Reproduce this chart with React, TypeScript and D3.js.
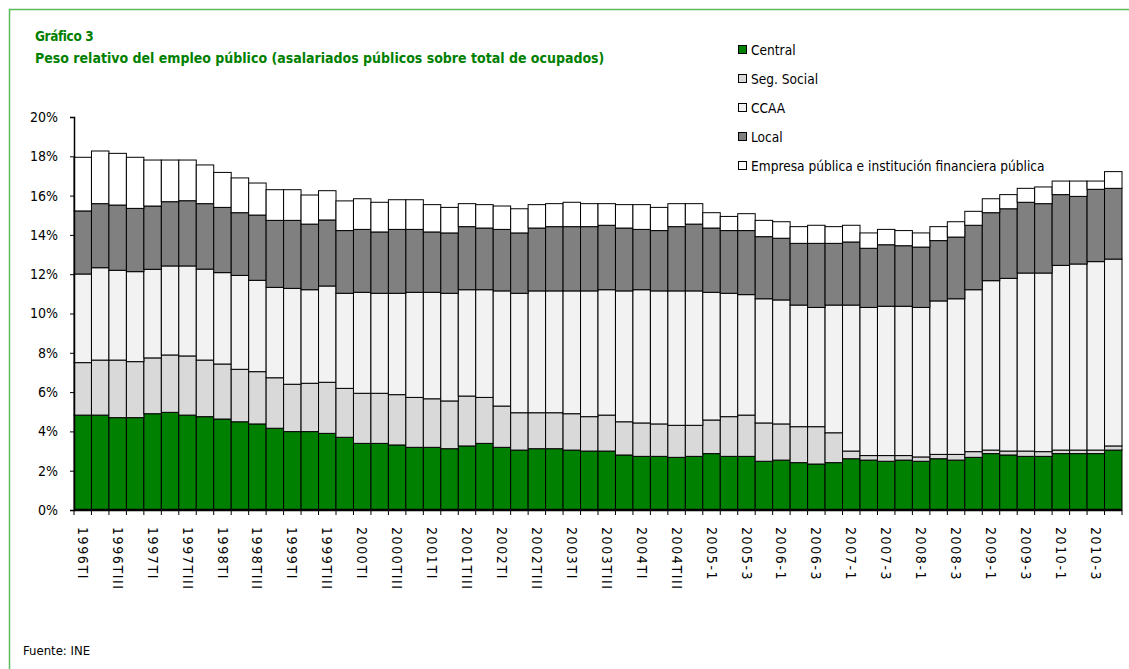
import React, { useEffect, useRef } from "react";
import * as d3 from "d3";

// trimestres 1996-2010
const quarters = [
  "1996TI", "1996TII", "1996TIII", "1996TIV",
  "1997TI", "1997TII", "1997TIII", "1997TIV",
  "1998TI", "1998TII", "1998TIII", "1998TIV",
  "1999TI", "1999TII", "1999TIII", "1999TIV",
  "2000TI", "2000TII", "2000TIII", "2000TIV",
  "2001TI", "2001TII", "2001TIII", "2001TIV",
  "2002TI", "2002TII", "2002TIII", "2002TIV",
  "2003TI", "2003TII", "2003TIII", "2003TIV",
  "2004TI", "2004TII", "2004TIII", "2004TIV",
  "2005-1", "2005-2", "2005-3", "2005-4",
  "2006-1", "2006-2", "2006-3", "2006-4",
  "2007-1", "2007-2", "2007-3", "2007-4",
  "2008-1", "2008-2", "2008-3", "2008-4",
  "2009-1", "2009-2", "2009-3", "2009-4",
  "2010-1", "2010-2", "2010-3", "2010-4",
];

// % sobre total de ocupados
const central = [
  4.83, 4.83, 4.70, 4.70, 4.90, 4.97, 4.83, 4.75, 4.63, 4.49,
  4.38, 4.16, 3.99, 3.99, 3.90, 3.70, 3.39, 3.39, 3.31, 3.19,
  3.19, 3.12, 3.26, 3.39, 3.19, 3.05, 3.12, 3.12, 3.05, 3.00,
  3.00, 2.80, 2.73, 2.73, 2.68, 2.73, 2.87, 2.73, 2.73, 2.48,
  2.54, 2.41, 2.34, 2.41, 2.61, 2.54, 2.48, 2.54, 2.48, 2.61,
  2.54, 2.68, 2.87, 2.80, 2.73, 2.73, 2.87, 2.87, 2.87, 3.05,
];
const segSocial = [
  2.67, 2.80, 2.93, 2.85, 2.84, 2.92, 3.01, 2.88, 2.80, 2.67,
  2.66, 2.57, 2.41, 2.46, 2.60, 2.49, 2.55, 2.55, 2.56, 2.54,
  2.47, 2.43, 2.54, 2.34, 2.10, 1.90, 1.83, 1.83, 1.85, 1.75,
  1.83, 1.69, 1.70, 1.65, 1.63, 1.58, 1.71, 2.02, 2.10, 1.95,
  1.84, 1.83, 1.90, 1.52, 0.39, 0.23, 0.29, 0.23, 0.22, 0.22,
  0.29, 0.29, 0.18, 0.20, 0.27, 0.24, 0.18, 0.18, 0.18, 0.21,
];
const ccaa = [
  4.51, 4.70, 4.57, 4.58, 4.51, 4.53, 4.58, 4.63, 4.65, 4.78,
  4.65, 4.60, 4.88, 4.76, 4.90, 4.84, 5.14, 5.09, 5.16, 5.35,
  5.42, 5.48, 5.41, 5.48, 5.86, 6.08, 6.20, 6.20, 6.25, 6.40,
  6.38, 6.66, 6.78, 6.77, 6.84, 6.84, 6.50, 6.28, 6.13, 6.32,
  6.31, 6.19, 6.07, 6.50, 7.43, 7.54, 7.60, 7.60, 7.61, 7.81,
  7.92, 8.24, 8.62, 8.79, 9.06, 9.09, 9.40, 9.47, 9.59, 9.51,
];
const local = [
  3.21, 3.26, 3.32, 3.22, 3.22, 3.27, 3.32, 3.33, 3.32, 3.19,
  3.32, 3.41, 3.46, 3.34, 3.36, 3.19, 3.20, 3.12, 3.25, 3.20,
  3.07, 3.07, 3.21, 3.14, 3.13, 3.07, 3.20, 3.27, 3.27, 3.27,
  3.28, 3.20, 3.07, 3.07, 3.27, 3.40, 3.27, 3.19, 3.26, 3.16,
  3.14, 3.14, 3.26, 3.14, 3.21, 3.01, 3.13, 3.08, 3.07, 3.07,
  3.14, 3.28, 3.46, 3.54, 3.60, 3.53, 3.60, 3.44, 3.68, 3.60,
];
const empresa = [
  2.73, 2.68, 2.63, 2.60, 2.34, 2.12, 2.07, 1.97, 1.78, 1.77,
  1.63, 1.56, 1.56, 1.48, 1.49, 1.51, 1.56, 1.51, 1.51, 1.51,
  1.39, 1.30, 1.17, 1.19, 1.19, 1.23, 1.19, 1.17, 1.24, 1.17,
  1.10, 1.19, 1.26, 1.18, 1.17, 1.04, 0.78, 0.72, 0.86, 0.83,
  0.84, 0.85, 0.92, 0.85, 0.85, 0.78, 0.78, 0.77, 0.72, 0.71,
  0.78, 0.71, 0.71, 0.72, 0.71, 0.85, 0.69, 0.78, 0.42, 0.85,
];

const seriesNames = [
  "Central",
  "Seg. Social",
  "CCAA",
  "Local",
  "Empresa pública e institución financiera pública",
];
const seriesColors = ["#008000", "#d9d9d9", "#f2f2f2", "#808080", "#ffffff"];
const yTicks = [0, 2, 4, 6, 8, 10, 12, 14, 16, 18, 20];

const FONT = "'Liberation Sans Narrow', 'DejaVu Sans Condensed', 'Roboto Condensed', sans-serif";

const App: React.FC = () => {
  const ref = useRef<SVGSVGElement | null>(null);

  useEffect(() => {
    const width = 1129;
    const height = 669;
    const svg = d3.select(ref.current);
    svg.selectAll("*").remove();
    svg.attr("width", width).attr("height", height).style("font-family", FONT);

    // marco verde
    svg.append("rect")
      .attr("x", 9.5).attr("y", 9.5)
      .attr("width", 1200).attr("height", 700)
      .attr("fill", "none")
      .attr("stroke", "#5cb85c")
      .attr("stroke-width", 1.5);

    // titulos
    svg.append("text")
      .attr("x", 35).attr("y", 41)
      .attr("fill", "#008000").attr("font-weight", "bold").attr("font-size", 13.5)
      .attr("letter-spacing", -0.4)
      .text("Gráfico 3");
    svg.append("text")
      .attr("x", 35).attr("y", 63)
      .attr("fill", "#008000").attr("font-weight", "bold").attr("font-size", 14)
      .text("Peso relativo  del empleo público (asalariados públicos sobre total de ocupados)");

    // escalas
    const x = d3.scaleBand().domain(quarters).range([74, 1122]).padding(0);
    const y = d3.scaleLinear().domain([0, 20]).range([510, 117]);

    const rows = quarters.map((q, i) => ({
      q,
      c: central[i],
      s: segSocial[i],
      a: ccaa[i],
      l: local[i],
      e: empresa[i],
    }));
    const keys = ["c", "s", "a", "l", "e"];
    const stack = d3.stack<any>().keys(keys)(rows);

    // barras apiladas
    svg.append("g")
      .selectAll("g")
      .data(stack)
      .join("g")
      .attr("fill", (_d, i) => seriesColors[i])
      .selectAll("rect")
      .data((d) => d)
      .join("rect")
      .attr("x", (d: any) => x(d.data.q)!)
      .attr("width", x.bandwidth())
      .attr("y", (d) => y(d[1]))
      .attr("height", (d) => y(d[0]) - y(d[1]))
      .attr("stroke", "#000")
      .attr("stroke-width", 1);

    // eje Y
    const yAxis = svg.append("g")
      .attr("transform", "translate(74,0)")
      .call(
        d3.axisLeft(y)
          .tickValues(yTicks)
          .tickFormat((d) => `${d}%`)
          .tickSize(4)
          .tickPadding(12)
      );
    yAxis.select(".domain").attr("stroke", "#000").attr("stroke-width", 1.5);
    yAxis.selectAll(".tick line").attr("stroke", "#000");
    yAxis.selectAll("text")
      .attr("font-size", 14)
      .attr("font-family", FONT)
      .attr("fill", "#000");

    // eje X: linea gruesa y marcas entre barras
    svg.append("line")
      .attr("x1", 74).attr("x2", 1122)
      .attr("y1", 510).attr("y2", 510)
      .attr("stroke", "#000").attr("stroke-width", 2.5);
    const bounds = quarters.map((q) => x(q)!).concat([1122]);
    svg.append("g")
      .selectAll("line")
      .data(bounds)
      .join("line")
      .attr("x1", (d) => d).attr("x2", (d) => d)
      .attr("y1", 510).attr("y2", 515)
      .attr("stroke", "#000").attr("stroke-width", 1);

    // etiquetas X (uno de cada dos trimestres)
    svg.append("g")
      .selectAll("text")
      .data(quarters.filter((_q, i) => i % 2 === 0))
      .join("text")
      .attr("transform", (q) => `translate(${x(q)! + x.bandwidth() / 2},527) rotate(90)`)
      .attr("dy", "0.35em")
      .attr("font-size", 14)
      .attr("letter-spacing", 1.6)
      .attr("fill", "#000")
      .text((q) => q);

    // leyenda
    const legend = svg.append("g");
    seriesNames.forEach((name, i) => {
      const ly = 50 + i * 29;
      legend.append("rect")
        .attr("x", 738.5).attr("y", ly - 4.5)
        .attr("width", 8).attr("height", 8)
        .attr("fill", seriesColors[i])
        .attr("stroke", "#000").attr("stroke-width", 1);
      legend.append("text")
        .attr("x", 751).attr("y", ly)
        .attr("dy", "0.35em")
        .attr("font-size", 13.6)
        .attr("fill", "#000")
        .text(name);
    });

    // fuente
    svg.append("text")
      .attr("x", 23).attr("y", 655)
      .attr("font-size", 13)
      .attr("fill", "#000")
      .text("Fuente: INE");
  }, []);

  return <svg ref={ref} style={{ position: "absolute", left: 0, top: 0 }} />;
};

export default App;
